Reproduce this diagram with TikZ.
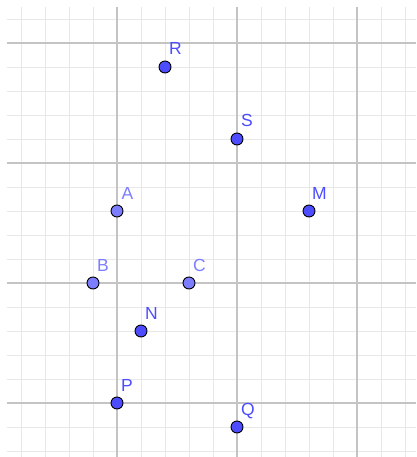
\documentclass[tikz,border=0pt]{standalone}
\usepackage{fontspec}
\setmainfont{Liberation Sans}
\definecolor{ptdark}{RGB}{77,77,255}
\definecolor{ptlight}{RGB}{125,125,255}
\definecolor{gmajor}{RGB}{196,196,196}
\definecolor{gminor}{RGB}{232,232,232}
\tikzset{
  pt/.style={circle, draw=black, line width=0.9pt, minimum size=12pt, inner sep=0pt},
  dpt/.style={pt, fill=ptdark},
  lpt/.style={pt, fill=ptlight},
  lbl/.style={anchor=base west, inner sep=0pt, font=\fontsize{17.5}{17.5}\selectfont},
}
\begin{document}
\begin{tikzpicture}[x=1pt,y=-1pt]
\useasboundingbox (0,0) rectangle (416,457);
\fill[white] (0,0) rectangle (416,457);
% minor grid
\foreach \x in {21,45,69,93,141,165,189,213,261,285,309,333,381,405}
  \draw[gminor, line width=0.9pt] (\x,7) -- (\x,457);
\foreach \y in {19,67,91,115,139,187,211,235,259,307,331,355,379,427,451}
  \draw[gminor, line width=0.9pt] (7,\y) -- (416,\y);
% major grid
\foreach \x in {117,237,357}
  \draw[gmajor, line width=1.1pt] (\x,7) -- (\x,457);
\foreach \y in {43,163,283,403}
  \draw[gmajor, line width=1.1pt] (7,\y) -- (416,\y);
% points
\node[dpt] (R) at (165,67) {};
\node[dpt] (S) at (237,139) {};
\node[lpt] (A) at (117,211) {};
\node[dpt] (M) at (309,211) {};
\node[lpt] (B) at (93,283) {};
\node[lpt] (C) at (189,283) {};
\node[dpt] (N) at (141,331) {};
\node[dpt] (P) at (117,403) {};
\node[dpt] (Q) at (237,427) {};
% labels
\node[lbl, text=ptdark] (Rl) at (169,55) {R};
\node[lbl, text=ptdark] (Sl) at (241,127) {S};
\node[lbl, text=ptlight] (Al) at (121.5,199.5) {A};
\node[lbl, text=ptdark] (Ml) at (312,199.5) {M};
\node[lbl, text=ptlight] (Bl) at (97,271.5) {B};
\node[lbl, text=ptlight] (Cl) at (193,271.5) {C};
\node[lbl, text=ptdark] (Nl) at (145,319.5) {N};
\node[lbl, text=ptdark] (Pl) at (121,391.5) {P};
\node[lbl, text=ptdark] (Ql) at (241,415) {Q};
\end{tikzpicture}
\end{document}
